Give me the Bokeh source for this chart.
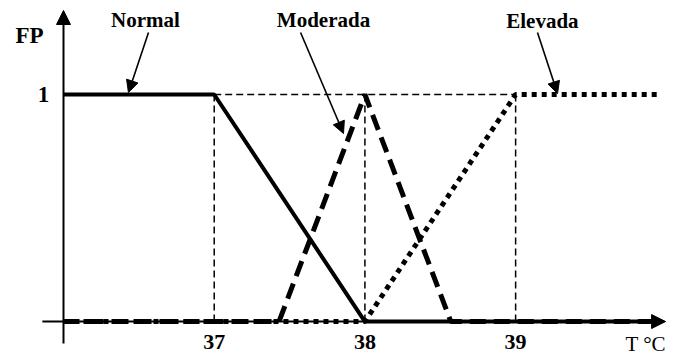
from bokeh.plotting import figure
from bokeh.models import Range1d, Arrow, NormalHead
from bokeh.core.properties import value
from bokeh.embed import file_html
from bokeh.resources import INLINE

# ---- data ----
normal_t = [36.0, 37.0, 38.0, 39.92]
normal_fp = [1, 1, 0, 0]
moderada_t = [36.0, 37.43, 38.0, 38.57, 39.92]
moderada_fp = [0, 0, 1, 0, 0]
elevada_t = [36.0, 38.0, 39.0, 39.95]
elevada_fp = [0, 0, 1, 1]
tick_values = [37, 38, 39]
tick_labels = ["37", "38", "39"]
set_names = ["Normal", "Moderada", "Elevada"]

SERIF = value("Liberation Serif")

p = figure(width=680, height=356, output_backend="svg", toolbar_location=None,
           x_range=Range1d(35.582, 40.094), y_range=Range1d(-0.154, 1.414),
           x_axis_type=None, y_axis_type=None, min_border=0,
           outline_line_color=None, background_fill_color="white",
           border_fill_color="white")
p.grid.visible = False

# guide lines
p.segment(x0=[tick_values[0]], y0=[1], x1=[tick_values[-1]], y1=[1],
          line_color="black", line_width=1.5, line_dash="7 4")
p.segment(x0=tick_values, y0=[0] * 3, x1=tick_values, y1=[1] * 3,
          line_color="black", line_width=1.5, line_dash="7 4")

# axes
p.add_layout(Arrow(end=NormalHead(size=14, fill_color="black", line_color="black"),
                   x_start=35.86, y_start=0, x_end=39.995, y_end=0,
                   line_width=2, line_color="black"))
p.add_layout(Arrow(end=NormalHead(size=14, fill_color="black", line_color="black"),
                   x_start=36, y_start=-0.097, x_end=36, y_end=1.37,
                   line_width=2, line_color="black"))

# membership functions
p.line(elevada_t, elevada_fp, line_color="black", line_width=5, line_dash="5 5")
p.line(moderada_t, moderada_fp, line_color="black", line_width=5, line_dash="16 8")
p.line(normal_t, normal_fp, line_color="black", line_width=4)

# label arrows
for xs, ys, xe, ye in [(36.564, 1.273, 36.431, 1.009),
                       (37.573, 1.273, 37.858, 0.828),
                       (39.145, 1.273, 39.278, 1.004)]:
    p.add_layout(Arrow(end=NormalHead(size=12, fill_color="black", line_color="black"),
                       x_start=xs, y_start=ys, x_end=xe, y_end=ye,
                       line_width=1.6, line_color="black"))

# set names
p.text(x=[36.544, 37.725, 39.178], y=[1.326, 1.330, 1.322], text=set_names,
       text_font=SERIF, text_font_size="21px", text_font_style="bold",
       text_align="center", text_baseline="middle", text_color="black")

# axis texts
p.text(x=[35.774], y=[1.26], text=["FP"], text_font=SERIF, text_font_size="23px",
       text_font_style="bold", text_align="center", text_baseline="middle")
p.text(x=[35.867], y=[1.0], text=["1"], text_font=SERIF, text_font_size="23px",
       text_font_style="bold", text_align="center", text_baseline="middle")
p.text(x=tick_values, y=[-0.092] * 3, text=tick_labels, text_font=SERIF,
       text_font_size="22px", text_font_style="bold", text_align="center",
       text_baseline="alphabetic")
p.text(x=[39.729], y=[-0.097], text=["T °C"], text_font=SERIF, text_font_size="21px",
       text_align="left", text_baseline="alphabetic")

open("out.html", "w").write(file_html(p, INLINE))
